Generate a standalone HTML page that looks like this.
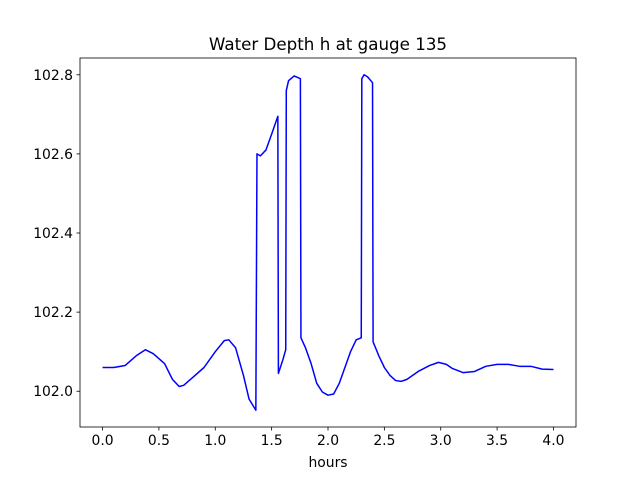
<!DOCTYPE html>
<html><head><meta charset="utf-8">
<style>
html,body{margin:0;padding:0;background:#fff;}
svg{display:block;font-family:"DejaVu Sans","Liberation Sans",sans-serif;}
</style></head>
<body>
<svg id="chart" width="640" height="480" viewBox="0 0 640 480">
<rect width="640" height="480" fill="#fff"/>
<text x="328" y="50" text-anchor="middle" font-size="16.7">Water Depth h at gauge 135</text>
<g id="xticks"></g>
<g id="yticks"></g>
<path id="series" fill="none" stroke="#0000ff" stroke-width="1.5" stroke-linejoin="round"/>
<rect x="80" y="58" width="496" height="369" fill="none" stroke="#000" stroke-width="0.8"/>
<text x="328" y="467" text-anchor="middle" font-size="13.9">hours</text>
</svg>
<script>
const hours = [0,0.1,0.2,0.3,0.38,0.45,0.55,0.62,0.68,0.72,0.8,0.9,1.0,1.08,1.12,1.18,1.25,1.3,1.36,1.37,1.4,1.45,1.5,1.555,1.56,1.6,1.625,1.63,1.65,1.7,1.755,1.76,1.8,1.85,1.9,1.95,2.0,2.05,2.1,2.15,2.2,2.25,2.295,2.3,2.32,2.35,2.395,2.4,2.45,2.5,2.55,2.6,2.65,2.7,2.8,2.9,2.98,3.05,3.1,3.2,3.3,3.4,3.5,3.6,3.7,3.8,3.9,4.0];
const depth = [102.06,102.06,102.065,102.09,102.105,102.095,102.07,102.03,102.012,102.015,102.035,102.06,102.1,102.128,102.13,102.11,102.04,101.98,101.952,102.6,102.595,102.61,102.65,102.695,102.045,102.08,102.105,102.76,102.785,102.797,102.79,102.135,102.11,102.07,102.02,101.998,101.99,101.993,102.02,102.06,102.1,102.13,102.135,102.79,102.8,102.795,102.78,102.125,102.09,102.06,102.04,102.027,102.025,102.03,102.05,102.065,102.073,102.068,102.058,102.047,102.05,102.063,102.068,102.068,102.063,102.063,102.056,102.055];
const xTickVals = [0,0.5,1,1.5,2,2.5,3,3.5,4];
const xTickLabels = ["0.0","0.5","1.0","1.5","2.0","2.5","3.0","3.5","4.0"];
const yTickVals = [102.0,102.2,102.4,102.6,102.8];
const yTickLabels = ["102.0","102.2","102.4","102.6","102.8"];

const L=80,R=576,T=58,B=427;
const xmin=-0.2,xmax=4.2;
const dmin=Math.min(...depth),dmax=Math.max(...depth),pad=(dmax-dmin)*0.05;
const ymin=dmin-pad,ymax=dmax+pad;
const sx=v=>L+(v-xmin)/(xmax-xmin)*(R-L);
const sy=v=>B-(v-ymin)/(ymax-ymin)*(B-T);
const NS="http://www.w3.org/2000/svg";
const xg=document.getElementById('xticks'),yg=document.getElementById('yticks');
xTickVals.forEach((v,i)=>{
  const x=sx(v);
  const l=document.createElementNS(NS,'line');
  l.setAttribute('x1',x);l.setAttribute('x2',x);l.setAttribute('y1',B);l.setAttribute('y2',B+3.5);
  l.setAttribute('stroke','#000');l.setAttribute('stroke-width','0.8');
  
  
  xg.appendChild(l);
  const t=document.createElementNS(NS,'text');
  t.setAttribute('x',x);t.setAttribute('y',B+18);t.setAttribute('text-anchor','middle');t.setAttribute('font-size','13.9');
  t.textContent=xTickLabels[i];
  
  
  xg.appendChild(t);
});
yTickVals.forEach((v,i)=>{
  const y=sy(v);
  const l=document.createElementNS(NS,'line');
  l.setAttribute('x1',L-3.5);l.setAttribute('x2',L);l.setAttribute('y1',y);l.setAttribute('y2',y);
  l.setAttribute('stroke','#000');l.setAttribute('stroke-width','0.8');
  
  
  yg.appendChild(l);
  const t=document.createElementNS(NS,'text');
  t.setAttribute('x',L-7);t.setAttribute('y',y+5);t.setAttribute('text-anchor','end');t.setAttribute('font-size','13.9');
  t.textContent=yTickLabels[i];
  
  
  yg.appendChild(t);
});
document.getElementById('series').setAttribute('d',hours.map((h,i)=>(i?'L':'M')+sx(h).toFixed(2)+' '+sy(depth[i]).toFixed(2)).join(' '));
</script>
</body></html>
